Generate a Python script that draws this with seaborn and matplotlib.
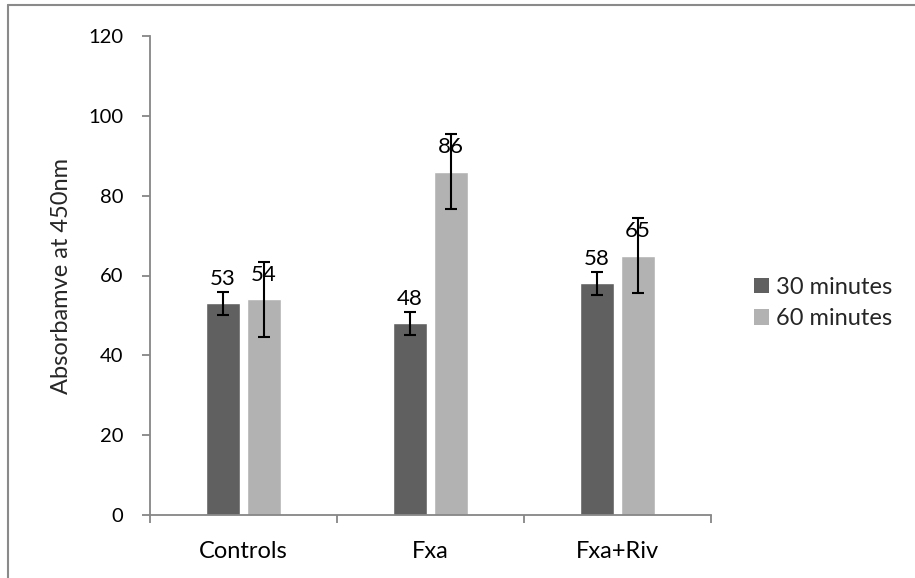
import matplotlib
matplotlib.use("Agg")
import matplotlib.pyplot as plt
import seaborn as sns
import pandas as pd
from matplotlib.patches import Patch
from matplotlib.lines import Line2D

# data
groups = ["Controls", "Fxa", "Fxa+Riv"]
series = ["30 minutes", "60 minutes"]
values_30 = [53, 48, 58]
values_60 = [54, 86, 65]
err_30 = [2.8, 2.8, 2.8]
err_60 = [9.4, 9.4, 9.4]
y_ticks = [0, 20, 40, 60, 80, 100, 120]
y_label = "Absorbamve at 450nm"

colors = ["#606060", "#b2b2b2"]
axis_grey = "#868686"

sns.set_theme(style="white")
plt.rcParams["font.family"] = ["Lato", "DejaVu Sans"]

df = pd.DataFrame({
    "group": groups * 2,
    "series": [series[0]] * 3 + [series[1]] * 3,
    "value": values_30 + values_60,
})

fig = plt.figure(figsize=(9.15, 5.78), dpi=100)
ax = fig.add_axes([150 / 915, 1 - 515 / 578, 561 / 915, 479 / 578])

sns.barplot(data=df, x="group", y="value", hue="series", order=groups,
            hue_order=series, palette=colors, width=0.435, gap=0.18,
            errorbar=None, saturation=1, ax=ax, legend=False)

# error bars and data labels
bar_containers = list(ax.containers)
for i, cont in enumerate(bar_containers):
    errs = err_30 if i == 0 else err_60
    vals = values_30 if i == 0 else values_60
    for bar, e in zip(cont, errs):
        cx = bar.get_x() + bar.get_width() / 2
        ax.errorbar(cx, bar.get_height(), yerr=e, fmt="none", ecolor="black",
                    elinewidth=1.5, capsize=4.3, capthick=1.5, zorder=4)
    ax.bar_label(cont, labels=[str(v) for v in vals],
                 padding=10.5, fontsize=16, color="black", zorder=5)

ax.set_ylim(0, 120)
ax.set_yticks(y_ticks)
ax.set_xlim(-0.5, 2.5)
ax.set_xlabel("")
ax.set_ylabel(y_label, fontsize=17, va="center")
ax.yaxis.set_label_coords((62 - 150) / 561, 0.5)

for side in ["top", "right"]:
    ax.spines[side].set_visible(False)
for side in ["left", "bottom"]:
    ax.spines[side].set_color(axis_grey)
    ax.spines[side].set_linewidth(1.3)

# y ticks outward on the left, x ticks at category boundaries
ax.tick_params(axis="y", direction="out", length=6, width=1.3, color=axis_grey,
               left=True, labelsize=14.5, pad=13, labelcolor="black")
ax.set_xticks([0, 1, 2])
ax.set_xticklabels(groups)
ax.tick_params(axis="x", length=0, labelsize=17, pad=19, labelcolor="black")
ax.set_xticks([-0.5, 0.5, 1.5, 2.5], minor=True)
ax.tick_params(axis="x", which="minor", direction="out", length=6, width=1.3,
               color=axis_grey, bottom=True)

handles = [Patch(facecolor=c, edgecolor="none", label=s) for c, s in zip(colors, series)]
fig.legend(handles=handles, loc="center left",
           bbox_to_anchor=(754 / 915, 1 - 303 / 578), borderpad=0, borderaxespad=0,
           frameon=False, fontsize=17, handlelength=0.62, handleheight=0.62,
           handletextpad=0.3, labelspacing=0.45)

# outer frame (only top and left edges visible in the cropped reference)
fig.add_artist(Line2D([8 / 915, 1.0], [1 - 5 / 578, 1 - 5 / 578],
                      transform=fig.transFigure, color="#8a8a8a", lw=1.5))
fig.add_artist(Line2D([8 / 915, 8 / 915], [0.0, 1 - 5 / 578],
                      transform=fig.transFigure, color="#8a8a8a", lw=1.5))

fig.savefig("out.png", dpi=100)
